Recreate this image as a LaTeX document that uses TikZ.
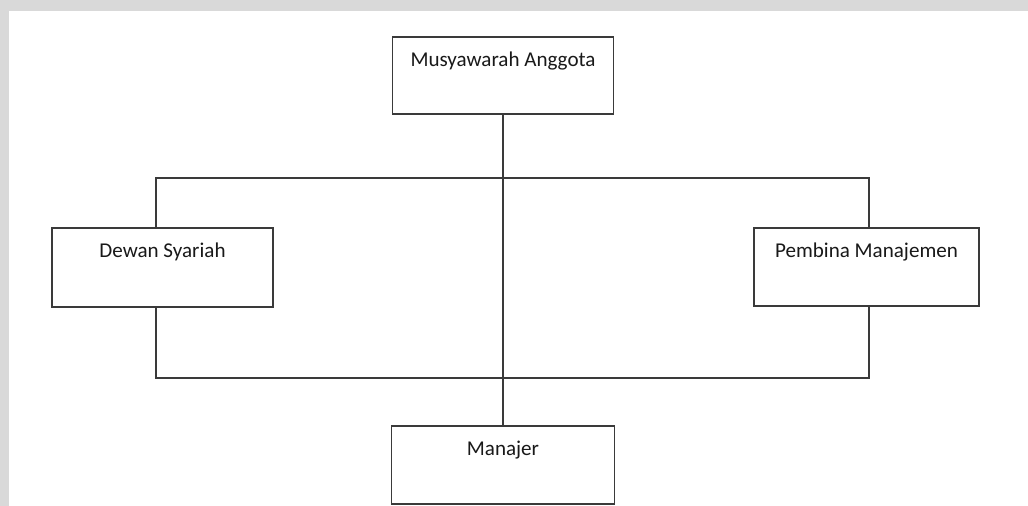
\documentclass[tikz,border=0pt]{standalone}
\usepackage{fontspec}
\setmainfont{Carlito}
\definecolor{band}{HTML}{D9D9D9}
\definecolor{ink}{HTML}{3A3A3A}
\begin{document}
\begin{tikzpicture}[x=0.75pt,y=-0.75pt,
  box/.style={draw=ink,line width=1.125pt,fill=white,rectangle,inner sep=0pt},
  lbl/.style={anchor=base,inner sep=0pt,font=\fontsize{15.8pt}{18pt}\selectfont,text=black!90},
  conn/.style={draw=ink,line width=1.125pt}]
\useasboundingbox (0,0) rectangle (1028,506);
\fill[white] (0,0) rectangle (1028,506);
\fill[band] (0,0) rectangle (1028,11);
\fill[band] (0,0) rectangle (9,506);
% coordinates for connector routing
\coordinate (L1) at (156,178);
\coordinate (R1) at (869,178);
\coordinate (L2) at (156,378);
\coordinate (R2) at (869,378);
% boxes
\node[box,minimum width=165.75pt,minimum height=57.75pt] (ma) at (503,75.5) {};
\node[box,minimum width=165.75pt,minimum height=59.25pt] (ds) at (162.5,267.5) {};
\node[box,minimum width=168.75pt,minimum height=58.5pt] (pm) at (866.5,267) {};
\node[box,minimum width=167.25pt,minimum height=58.5pt] (mj) at (503,465) {};
% connectors
\draw[conn] (ma.south) -- (mj.north);
\draw[conn] (ds.north -| L1) -- (L1) -- (R1) -- (pm.north -| R1);
\draw[conn] (ds.south -| L2) -- (L2) -- (R2) -- (pm.south -| R2);
% texts
\node[lbl] (tma) at (503,67) {Musyawarah Anggota};
\node[lbl] (tds) at (162.5,257) {Dewan Syariah};
\node[lbl] (tpm) at (866.5,257) {Pembina Manajemen};
\node[lbl] (tmj) at (503,455) {Manajer};
\end{tikzpicture}
\end{document}
